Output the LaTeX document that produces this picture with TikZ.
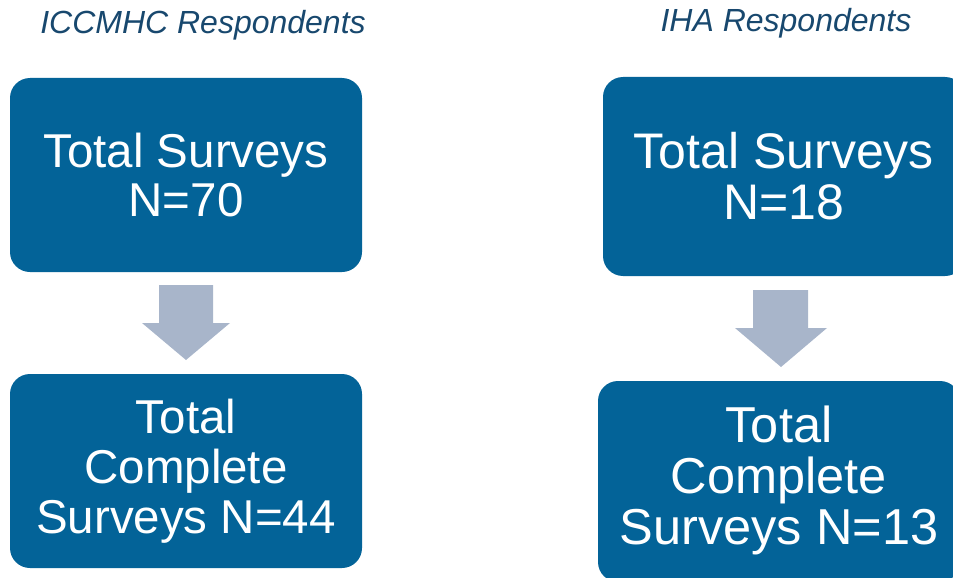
\documentclass[tikz,border=0pt]{standalone}
\usepackage{fontspec}
\setmainfont{Liberation Sans}
\definecolor{boxblue}{RGB}{3,99,152}
\definecolor{arrowgray}{RGB}{168,181,202}
\definecolor{titleblue}{RGB}{24,72,110}
\tikzset{
  box/.style={fill=boxblue, rounded corners=20pt, text=white, align=center, inner sep=0pt},
  ttl/.style={text=titleblue, font=\fontsize{32}{36}\selectfont\itshape, inner sep=0pt},
  blockarrow/.style={fill=arrowgray},
}
\begin{document}
\begin{tikzpicture}[x=1pt,y=-1pt]
\useasboundingbox (0,0) rectangle (953,578);
\clip (0,0) rectangle (953,578);
% titles
\node[ttl, anchor=base] (t1) at (203,34) {ICCMHC Respondents};
\node[ttl, anchor=base] (t2) at (786,32) {IHA Respondents};
% boxes
\node[box, minimum width=352pt, minimum height=194pt, font=\fontsize{47.5}{49}\selectfont] (a1) at (186,175) {Total Surveys\\N=70};
\node[box, minimum width=352pt, minimum height=194pt, font=\fontsize{47.5}{50}\selectfont] (a2) at (186,471) {Total\\Complete\\Surveys N=44};
\node[box, minimum width=362pt, minimum height=199pt, font=\fontsize{50}{51}\selectfont] (b1) at (784,176.5) {Total Surveys\\N=18};
\node[box, minimum width=362pt, minimum height=201pt, font=\fontsize{50.5}{51}\selectfont, text depth=12pt] (b2) at (779,481.5) {Total\\Complete\\Surveys N=13};
% block arrows
\coordinate (pa) at (186,285);
\fill[blockarrow] (pa) ++(-27,0) -- ++(54,0) -- ++(0,38) -- ++(17,0) -- (186,360) -- (142,323) -- (159,323) -- cycle;
\coordinate (pb) at (781,290);
\fill[blockarrow] (pb) ++(-28,0) -- ++(55,0) -- ++(0,38) -- ++(19,0) -- (781,367) -- (735,328) -- (753,328) -- cycle;
\end{tikzpicture}
\end{document}
